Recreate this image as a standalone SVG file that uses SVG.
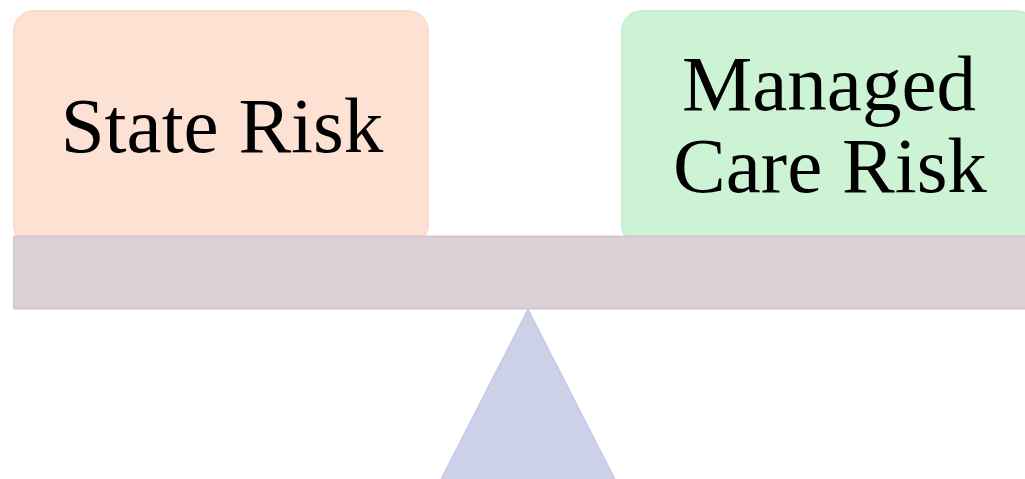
<svg xmlns="http://www.w3.org/2000/svg" width="1025" height="479" viewBox="0 0 1025 479">
<style>
.lbl{font-family:"Liberation Serif","Times New Roman",serif;font-size:79px;fill:#000;text-anchor:middle}
</style>
<rect width="1025" height="479" fill="#fff"/>
<g id="state-risk">
<rect x="14" y="11" width="414" height="234" rx="20" fill="#fde2d3" stroke="#fbdcca" stroke-width="2"/>
<text class="lbl" x="222" y="152">State Risk</text>
</g>
<g id="managed-care-risk">
<rect x="622" y="11" width="414" height="234" rx="20" fill="#cdf3d5" stroke="#c6efce" stroke-width="2"/>
<text class="lbl" x="829" y="110">Managed</text>
<text class="lbl" x="830" y="192">Care Risk</text>
</g>
<g id="beam">
<rect x="14" y="236.5" width="1020" height="72" fill="#dad0d5" stroke="#d3c8ce" stroke-width="2"/>
</g>
<g id="fulcrum">
<polygon points="528,310 441,480 615,480" fill="#ccd1e8" stroke="#c7cceb" stroke-width="2"/>
</g>
<g id="connectors"></g>
</svg>
